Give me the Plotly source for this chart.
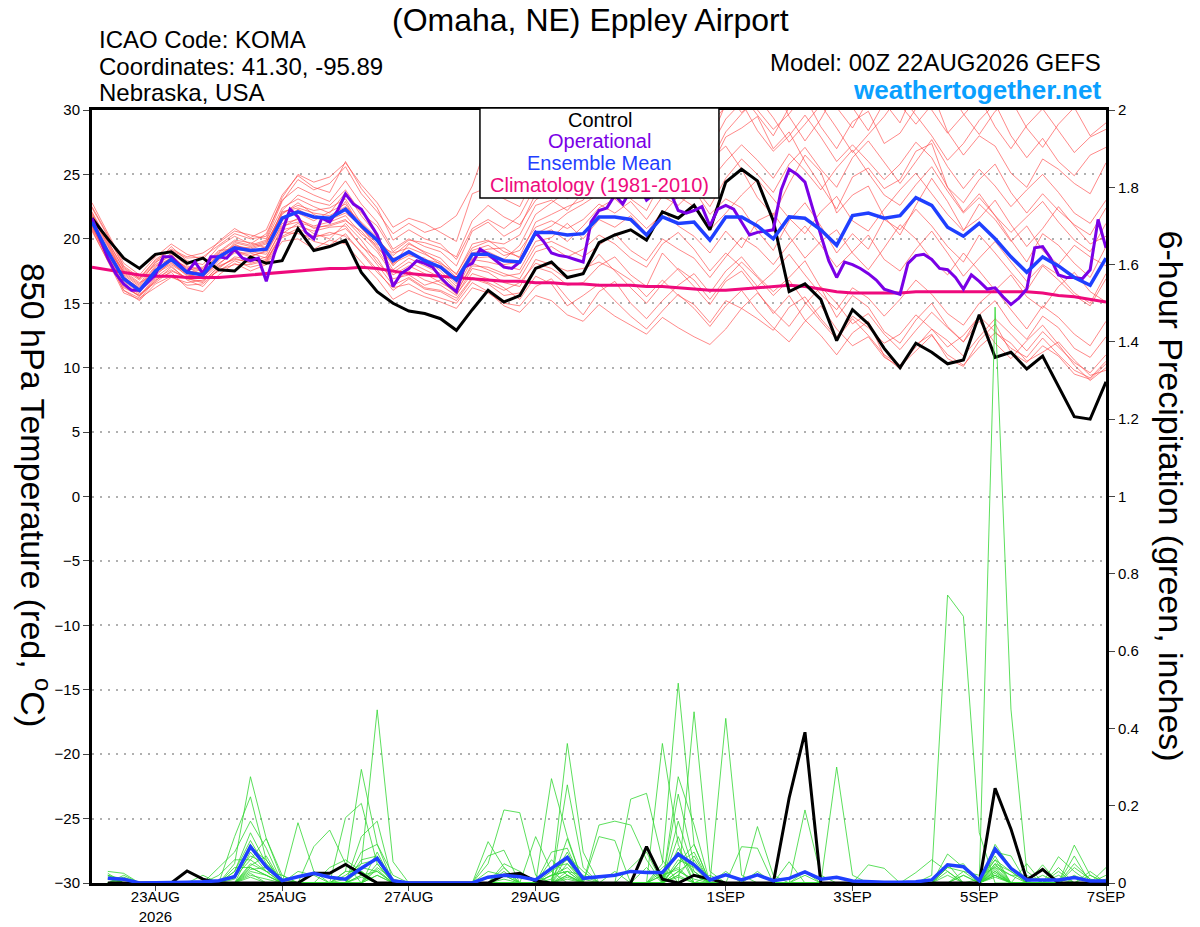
import pandas as pd
import plotly.graph_objects as go

FONT = "Liberation Sans, Arial, sans-serif"

# 6-hourly forecast times from the 00Z 22AUG2026 run, operational run is 3-hourly
times = pd.date_range("2026-08-22 00:00", periods=65, freq="6h")
times_3h = pd.date_range("2026-08-22 00:00", periods=129, freq="3h")
prcp_times = times[1:]

tick_dates = ["2026-08-23", "2026-08-25", "2026-08-27", "2026-08-29",
              "2026-09-01", "2026-09-03", "2026-09-05", "2026-09-07"]
tick_labels = ["23AUG<br>2026", "25AUG", "27AUG", "29AUG", "1SEP", "3SEP", "5SEP", "7SEP"]

# 850 hPa temperature (C)
control_t = [21.6, 20.0, 18.5, 17.7, 18.8, 19.0, 18.1, 18.5, 17.6, 17.5,
             18.6, 18.1, 18.3, 20.8, 19.1, 19.4, 19.9, 17.4, 15.9, 15.0,
             14.4, 14.2, 13.8, 12.9, 14.5, 16.0, 15.1, 15.6, 17.7, 18.2,
             17.0, 17.3, 19.7, 20.3, 20.7, 19.9, 22.1, 21.6, 22.6, 20.7,
             24.4, 25.4, 24.5, 21.4, 15.9, 16.5, 15.3, 12.1, 14.5, 13.4,
             11.5, 10.0, 11.9, 11.2, 10.3, 10.6, 14.1, 10.8, 11.2, 9.9,
             10.9, 8.5, 6.2, 6.0, 8.9]

mean_t = [21.3, 19.0, 16.9, 16.0, 17.5, 18.4, 17.4, 17.2, 18.6, 19.3,
          19.1, 19.2, 21.6, 22.1, 21.7, 21.6, 22.3, 21.0, 19.9, 18.3,
          19.0, 18.3, 17.8, 16.8, 18.8, 18.8, 18.3, 18.2, 20.5, 20.5,
          20.3, 20.4, 21.7, 21.7, 21.5, 20.3, 21.7, 21.2, 21.3, 19.9,
          21.7, 21.7, 21.0, 20.0, 21.7, 21.6, 20.7, 19.5, 21.8, 22.0,
          21.6, 21.8, 23.2, 22.6, 20.9, 20.2, 21.2, 20.0, 18.6, 17.4,
          18.6, 17.9, 17.0, 16.4, 18.5]

clim_t = [17.8, 17.6, 17.4, 17.2, 17.1, 17.1, 17.0, 17.0, 17.0, 17.1,
          17.2, 17.3, 17.4, 17.5, 17.6, 17.7, 17.7, 17.8, 17.7, 17.5,
          17.3, 17.2, 17.1, 17.0, 16.9, 16.8, 16.7, 16.7, 16.6, 16.6,
          16.5, 16.5, 16.4, 16.4, 16.4, 16.3, 16.3, 16.2, 16.1, 16.0,
          16.0, 16.1, 16.2, 16.3, 16.4, 16.3, 16.1, 15.9, 15.8, 15.8,
          15.8, 15.8, 15.9, 15.9, 15.9, 15.9, 15.9, 15.9, 15.9, 15.9,
          15.8, 15.6, 15.5, 15.3, 15.1]

oper_t = [21.6, 20.0, 18.5, 17.3, 16.5, 16.0, 16.0, 16.6, 17.2, 18.6,
          18.6, 18.0, 17.4, 18.2, 17.3, 18.6, 18.6, 18.5, 19.2, 18.5,
          18.3, 18.5, 16.7, 18.8, 20.5, 22.3, 21.7, 20.5, 20.0, 21.6,
          21.3, 22.2, 23.5, 22.7, 22.3, 21.3, 20.3, 18.6, 16.3, 17.3,
          17.7, 18.3, 18.1, 17.8, 17.0, 16.4, 15.9, 17.8, 18.1, 19.2,
          18.8, 18.3, 17.8, 17.7, 18.2, 19.3, 20.5, 19.8, 18.9, 18.7,
          18.6, 18.4, 18.2, 21.3, 22.2, 22.4, 23.4, 22.7, 23.8, 24.2,
          23.0, 23.5, 24.0, 23.6, 22.2, 22.0, 22.2, 22.5, 21.0, 22.3,
          22.6, 22.3, 21.3, 20.3, 20.5, 20.6, 20.7, 23.8, 25.4, 25.0,
          24.4, 22.3, 20.2, 18.3, 17.0, 18.2, 18.0, 17.7, 17.3, 16.8,
          16.1, 15.9, 15.7, 18.1, 18.7, 18.8, 18.4, 17.7, 17.6, 17.0,
          16.1, 17.2, 16.7, 16.1, 16.2, 15.5, 14.9, 15.4, 16.1, 19.3,
          19.4, 18.5, 17.2, 17.0, 17.0, 16.9, 17.6, 21.5, 19.3]

temp_members = [
    [21.8, 19.5, 17.2, 16.3, 17.8, 18.9, 17.9, 17.5, 18.9, 19.8, 19.5, 19.9, 22.4,
     23.1, 22.5, 22.0, 23.6, 21.8, 20.3, 18.0, 19.6, 19.0, 18.5, 17.2, 19.6, 19.9,
     19.0, 18.6, 21.3, 21.9, 22.5, 23.0, 24.8, 25.0, 24.3, 23.0, 25.8, 26.5, 27.2,
     25.4, 27.9, 28.6, 29.5, 27.0, 28.3, 26.0, 24.2, 22.3, 24.8, 25.5, 23.9, 24.6,
     26.8, 27.4, 24.0, 22.1, 23.5, 21.8, 19.9, 18.2, 20.4, 19.5, 18.1, 17.0, 19.4],
    [20.9, 18.6, 16.4, 15.5, 16.9, 17.6, 16.9, 16.6, 17.9, 18.4, 18.2, 18.6, 20.7,
     21.0, 20.6, 20.9, 21.0, 19.4, 18.5, 16.6, 17.5, 16.8, 16.4, 15.6, 17.7, 17.4,
     16.6, 16.3, 18.4, 18.0, 17.5, 17.7, 18.2, 17.6, 16.8, 15.5, 16.8, 15.6, 14.9,
     13.5, 15.2, 14.6, 13.8, 12.9, 14.7, 15.5, 13.8, 12.4, 14.0, 13.1, 11.9, 12.6,
     14.1, 13.0, 11.6, 12.5, 14.0, 12.8, 11.5, 10.8, 12.3, 11.0, 9.8, 9.2, 10.5],
    [22.4, 20.2, 17.8, 16.9, 18.1, 19.4, 18.3, 18.0, 19.4, 20.2, 19.6, 20.4, 23.0,
     24.0, 23.4, 22.9, 24.5, 22.7, 21.3, 19.2, 20.0, 19.4, 19.0, 17.9, 20.6, 21.3,
     20.2, 20.9, 23.5, 24.2, 23.1, 24.4, 26.3, 27.0, 25.8, 24.5, 27.6, 28.4, 29.3,
     27.5, 30.5, 31.2, 29.6, 28.0, 30.2, 31.0, 28.7, 27.0, 29.1, 29.9, 27.4, 28.2,
     30.1, 31.5, 28.3, 26.5, 28.0, 27.2, 25.1, 24.0, 26.2, 25.4, 24.3, 23.5, 25.9],
    [21.0, 18.4, 16.0, 15.2, 16.5, 17.1, 16.4, 16.5, 17.6, 18.0, 18.0, 18.3, 20.5,
     20.4, 20.1, 20.5, 20.2, 19.0, 17.6, 16.0, 16.9, 16.1, 15.9, 15.2, 16.9, 16.5,
     15.6, 15.8, 17.8, 17.4, 16.4, 16.6, 17.9, 18.6, 17.2, 16.3, 18.9, 17.6, 16.3,
     14.9, 16.7, 17.5, 15.9, 14.2, 15.6, 13.7, 12.5, 11.0, 12.7, 13.6, 10.9, 9.9,
     11.8, 12.6, 10.7, 10.1, 12.1, 13.4, 11.2, 10.4, 11.7, 10.9, 9.5, 9.1, 10.3],
    [21.5, 19.2, 17.5, 16.6, 17.3, 18.0, 17.2, 17.0, 18.3, 19.6, 19.0, 19.4, 21.9,
     22.8, 21.9, 21.3, 22.9, 20.8, 19.6, 18.9, 19.3, 18.8, 18.2, 17.0, 19.1, 19.5,
     18.7, 19.1, 20.9, 21.4, 20.8, 21.5, 22.7, 22.0, 22.9, 21.5, 23.3, 22.6, 23.8,
     21.9, 23.1, 22.4, 20.6, 19.1, 21.4, 22.8, 21.0, 18.9, 20.4, 19.2, 21.5, 20.7,
     22.3, 21.0, 19.4, 18.2, 20.3, 18.9, 17.4, 16.0, 17.9, 16.8, 15.6, 14.8, 16.9],
    [21.9, 19.8, 17.7, 16.9, 18.4, 19.2, 18.6, 18.9, 19.7, 20.6, 20.3, 20.0, 22.9,
     24.6, 23.8, 24.3, 25.6, 23.5, 22.1, 20.4, 21.2, 20.5, 20.9, 21.8, 24.1, 27.6,
     26.0, 24.2, 26.9, 27.5, 26.0, 27.8, 29.4, 28.2, 29.1, 27.0, 28.8, 29.6, 28.0,
     26.1, 27.2, 25.4, 23.2, 21.8, 24.3, 26.5, 25.2, 22.0, 23.4, 24.1, 21.7, 20.3,
     22.6, 24.7, 22.9, 20.7, 21.6, 23.0, 21.1, 19.4, 20.8, 22.5, 21.0, 19.6, 20.2],
    [20.7, 18.2, 15.8, 15.3, 16.8, 17.4, 16.2, 15.9, 17.2, 18.1, 17.5, 18.0, 19.8,
     20.0, 19.2, 19.9, 19.6, 18.2, 16.9, 15.3, 16.0, 15.5, 15.1, 14.6, 16.2, 15.8,
     15.0, 14.8, 16.3, 16.9, 15.4, 14.1, 15.9, 16.7, 15.0, 13.8, 15.2, 16.4, 17.3,
     15.8, 17.5, 18.6, 17.1, 15.9, 17.0, 18.3, 16.2, 13.9, 15.6, 14.7, 12.8, 11.9,
     13.7, 15.0, 13.2, 12.0, 14.1, 15.2, 13.4, 12.2, 14.0, 13.1, 11.5, 10.8, 12.4],
    [22.1, 19.9, 17.6, 16.8, 18.0, 18.7, 17.5, 17.3, 18.7, 19.4, 19.3, 19.7, 22.0,
     22.6, 22.2, 22.4, 23.1, 21.2, 20.0, 18.7, 19.7, 18.9, 18.0, 16.9, 18.8, 19.0,
     18.4, 19.5, 21.9, 22.8, 23.7, 25.1, 26.0, 25.2, 26.4, 25.3, 27.2, 26.4, 27.6,
     25.9, 28.3, 29.7, 31.0, 29.4, 27.5, 28.9, 30.4, 28.6, 26.7, 28.1, 29.5, 31.2,
     29.6, 28.0, 26.1, 27.4, 29.2, 30.5, 28.0, 26.3, 27.8, 26.0, 24.9, 26.5, 27.1],
    [21.2, 18.9, 16.7, 15.8, 17.5, 18.6, 17.7, 17.8, 19.1, 19.2, 19.0, 18.8, 21.2,
     21.5, 21.0, 21.3, 21.8, 20.4, 19.5, 17.6, 18.5, 17.9, 17.3, 16.1, 18.4, 18.2,
     17.9, 17.6, 19.8, 20.1, 21.2, 20.0, 21.5, 20.9, 21.8, 20.4, 22.2, 21.0, 20.2,
     18.9, 20.6, 19.3, 21.4, 22.0, 20.2, 18.5, 19.8, 20.7, 18.9, 17.6, 19.3, 21.1,
     20.0, 18.4, 17.2, 18.9, 17.5, 16.0, 17.2, 15.5, 14.6, 16.3, 17.4, 15.9, 15.1],
    [22.8, 20.5, 18.1, 17.2, 18.6, 19.6, 18.8, 18.4, 19.8, 20.8, 20.1, 20.7, 23.4,
     24.9, 24.0, 23.6, 26.0, 23.9, 22.4, 19.9, 20.7, 20.0, 19.6, 18.4, 20.8, 21.5,
     20.8, 21.8, 24.1, 25.0, 24.6, 26.2, 27.5, 28.9, 27.8, 26.1, 28.2, 30.2, 29.0,
     27.0, 29.3, 30.6, 28.4, 26.8, 28.0, 29.6, 27.9, 26.0, 27.3, 26.0, 24.6, 25.8,
     27.5, 26.3, 24.0, 22.8, 24.6, 25.8, 23.6, 22.0, 23.5, 22.2, 21.1, 20.3, 22.4],
    [20.6, 18.3, 16.2, 15.6, 17.0, 17.9, 16.8, 16.3, 17.7, 18.6, 18.4, 18.2, 20.4,
     21.2, 20.4, 20.0, 21.2, 19.9, 18.2, 16.9, 17.2, 16.4, 16.8, 15.7, 17.3, 16.9,
     16.2, 15.3, 17.1, 16.5, 14.8, 15.6, 16.5, 15.2, 14.0, 13.0, 14.4, 15.7, 14.6,
     13.2, 14.8, 16.0, 14.4, 13.1, 12.0, 13.6, 14.8, 13.0, 11.7, 12.4, 10.8, 10.1,
     11.3, 12.5, 11.0, 10.2, 11.6, 12.7, 11.9, 10.5, 11.2, 12.0, 10.6, 9.4, 9.8],
    [21.4, 19.1, 17.1, 16.1, 17.7, 18.2, 17.1, 17.4, 18.5, 19.0, 18.6, 19.1, 21.4,
     22.3, 21.6, 21.5, 22.0, 21.0, 19.8, 17.9, 19.1, 18.2, 17.7, 16.5, 18.5, 18.6,
     18.0, 18.2, 20.3, 20.7, 19.8, 21.0, 22.4, 23.1, 22.0, 20.8, 21.9, 23.3, 22.5,
     20.7, 22.0, 23.4, 24.6, 23.1, 21.6, 20.4, 22.1, 23.3, 21.4, 20.6, 22.3, 23.8,
     25.1, 23.5, 21.9, 20.6, 22.7, 21.5, 19.8, 21.0, 19.1, 18.0, 19.5, 18.6, 17.9],
    [22.0, 19.7, 17.4, 16.5, 18.2, 18.8, 17.6, 17.7, 19.0, 19.9, 19.7, 19.3, 22.2,
     23.4, 22.9, 22.6, 23.8, 22.0, 21.0, 19.0, 19.9, 19.7, 19.3, 18.6, 21.4, 22.6,
     21.7, 21.1, 23.0, 23.9, 25.2, 24.0, 25.9, 27.4, 28.6, 26.8, 25.5, 27.9, 30.8,
     29.2, 31.4, 29.8, 30.9, 32.0, 29.5, 27.6, 29.3, 31.5, 30.2, 28.4, 30.6, 29.0,
     31.8, 30.0, 28.2, 29.6, 31.0, 28.7, 27.0, 28.8, 30.1, 28.4, 26.7, 27.9, 28.5],
    [21.1, 18.8, 16.5, 15.7, 16.6, 17.5, 17.0, 17.1, 18.1, 18.9, 18.9, 18.5, 20.9,
     21.6, 20.8, 21.1, 21.5, 20.2, 19.0, 17.2, 17.9, 17.3, 16.6, 15.9, 17.9, 17.8,
     17.3, 16.9, 19.0, 19.4, 18.6, 19.2, 20.3, 19.6, 18.5, 17.8, 19.6, 20.5, 19.2,
     17.5, 18.9, 17.8, 16.3, 17.4, 18.8, 17.2, 15.7, 14.5, 16.2, 15.4, 14.0, 15.3,
     16.8, 15.7, 14.2, 13.3, 15.0, 16.1, 14.5, 13.0, 14.8, 13.9, 12.6, 11.7, 13.6],
    [21.6, 19.4, 17.0, 16.2, 17.1, 18.3, 17.4, 17.6, 18.8, 19.5, 19.2, 19.6, 22.1,
     22.4, 22.0, 21.8, 22.5, 21.3, 20.1, 18.5, 18.8, 18.5, 17.5, 16.3, 18.9, 19.2,
     19.3, 18.5, 20.4, 21.0, 22.0, 22.7, 23.5, 24.4, 23.1, 22.2, 24.6, 25.3, 24.0,
     22.5, 24.7, 26.2, 25.0, 23.6, 25.8, 27.1, 25.4, 24.0, 26.3, 27.6, 25.9, 24.3,
     26.0, 27.7, 25.6, 23.9, 25.4, 24.1, 22.5, 23.8, 25.0, 23.6, 22.0, 21.2, 23.0],
    [20.8, 18.5, 16.0, 15.4, 16.2, 17.0, 16.6, 16.8, 17.5, 18.3, 17.8, 18.1, 20.1,
     20.6, 19.8, 19.5, 20.4, 18.9, 17.4, 16.2, 16.5, 15.8, 15.4, 15.0, 16.6, 15.9,
     14.8, 14.3, 15.6, 15.2, 14.1, 13.6, 14.9, 14.0, 13.3, 12.6, 13.9, 13.1, 12.4,
     11.8, 13.0, 14.6, 15.8, 14.4, 13.2, 14.9, 16.3, 15.0, 13.4, 14.2, 12.6, 11.4,
     12.9, 14.3, 13.1, 12.0, 13.6, 11.9, 10.7, 12.1, 13.3, 11.8, 10.2, 9.0, 10.0],
    [21.7, 19.6, 17.3, 16.4, 17.9, 18.5, 17.8, 17.2, 18.4, 19.7, 19.4, 19.8, 21.7,
     22.0, 21.4, 22.1, 22.7, 20.9, 19.3, 18.1, 18.7, 18.4, 18.1, 17.3, 19.3, 19.8,
     19.6, 20.3, 22.6, 23.0, 22.2, 23.6, 25.0, 24.1, 25.4, 24.2, 26.1, 24.9, 26.2,
     24.5, 26.0, 27.3, 26.1, 24.7, 26.6, 25.3, 23.8, 25.5, 26.9, 25.1, 23.4, 22.6,
     24.2, 25.6, 23.7, 22.0, 23.2, 21.8, 20.5, 21.7, 22.9, 21.3, 19.9, 19.0, 21.2],
    [21.3, 19.0, 16.8, 15.9, 17.4, 18.1, 17.3, 16.9, 18.0, 19.1, 18.7, 19.0, 21.0,
     21.3, 20.9, 21.0, 21.4, 20.6, 19.2, 17.4, 18.2, 17.6, 17.0, 15.8, 18.1, 17.6,
     17.1, 17.3, 19.4, 19.8, 19.2, 18.6, 19.5, 20.4, 19.1, 18.3, 20.0, 19.2, 18.5,
     17.0, 18.6, 20.1, 19.3, 18.0, 19.6, 21.0, 19.5, 17.8, 19.0, 20.3, 18.4, 17.5,
     19.2, 20.6, 18.9, 17.1, 18.5, 19.8, 18.2, 16.7, 18.0, 17.2, 15.8, 15.0, 17.3],
    [22.5, 20.3, 17.9, 17.0, 18.3, 19.1, 18.5, 18.6, 19.5, 20.4, 20.0, 20.2, 23.2,
     25.0, 24.4, 24.8, 25.9, 24.2, 22.8, 20.9, 21.6, 21.2, 20.5, 19.8, 23.5, 24.0,
     23.1, 22.5, 25.0, 26.3, 27.0, 28.4, 29.2, 30.1, 28.5, 27.4, 29.3, 30.6, 31.2,
     28.8, 30.3, 31.5, 30.0, 28.5, 29.7, 31.3, 32.0, 30.2, 28.6, 30.8, 31.9, 30.4,
     28.9, 30.4, 31.6, 29.7, 28.1, 29.9, 30.8, 28.6, 27.1, 28.9, 30.2, 28.0, 29.0],
    [21.0, 18.7, 16.3, 15.6, 16.7, 17.8, 16.9, 16.7, 17.8, 18.5, 18.1, 18.4, 20.2,
     20.8, 20.2, 20.3, 20.8, 19.5, 18.0, 16.4, 17.0, 16.2, 16.0, 15.4, 17.0, 16.6,
     16.0, 16.6, 18.1, 17.7, 16.9, 17.4, 18.8, 17.5, 16.2, 15.0, 16.5, 17.7, 16.8,
     15.3, 16.9, 18.2, 17.0, 15.6, 16.8, 15.1, 13.6, 12.2, 13.8, 12.5, 11.0, 10.2,
     11.6, 13.0, 12.1, 10.9, 12.4, 13.8, 12.6, 11.3, 12.8, 11.6, 10.4, 9.6, 11.0],
]

# 6-hour precipitation (inches), valid 06Z 22AUG onward
control_p = [0, 0, 0, 0, 0, 0.031, 0.01, 0, 0, 0,
             0, 0, 0, 0.025, 0.025, 0.048, 0.023, 0, 0, 0,
             0, 0, 0, 0, 0, 0.02, 0.025, 0.005, 0, 0,
             0, 0, 0, 0, 0.094, 0.01, 0, 0.02, 0.01, 0,
             0, 0, 0, 0.22, 0.39, 0, 0, 0, 0, 0,
             0, 0, 0, 0, 0, 0, 0.245, 0.14, 0.008, 0.035,
             0, 0, 0, 0]

mean_p = [0.012, 0.01, 0, 0, 0, 0.002, 0.003, 0.006, 0.016, 0.094,
          0.042, 0.006, 0.016, 0.025, 0.015, 0.01, 0.038, 0.064, 0.006, 0,
          0, 0, 0, 0, 0.015, 0.02, 0.016, 0.008, 0.038, 0.066,
          0.012, 0.016, 0.02, 0.03, 0.027, 0.027, 0.075, 0.047, 0.008, 0.021,
          0.008, 0.021, 0.006, 0.012, 0.029, 0.01, 0.015, 0.005, 0.003, 0.002,
          0.002, 0.003, 0.008, 0.047, 0.042, 0.006, 0.088, 0.038, 0.008, 0.008,
          0.008, 0.014, 0.005, 0.005]

# members: nonzero amounts by 6-h step (1 = 06Z 22AUG), all other steps dry
prcp_members = [
    {1: .02, 2: .01, 9: .05, 10: .275, 11: .115, 12: .01, 17: .05, 18: .448, 19: .055,
     26: .04, 29: .27, 30: .12, 36: .05, 37: .517, 38: .1, 45: .02, 57: .05, 62: .098, 63: .02},
    {1: .03, 2: .025, 9: .12, 10: .223, 11: .06, 16: .03, 17: .294, 18: .1, 25: .107, 26: .04,
     30: .361, 31: .08, 34: .217, 35: .232, 36: .06, 38: .443, 39: .03, 57: .08, 58: .07, 61: .03},
    {1: .016, 8: .04, 9: .08, 10: .16, 11: .09, 13: .156, 14: .03, 17: .12, 18: .16, 25: .05,
     26: .189, 27: .182, 28: .02, 30: .254, 31: .04, 36: .361, 37: .1, 40: .426, 41: .02,
     54: .04, 55: .03, 57: .1, 58: .04},
    {2: .02, 7: .02, 9: .03, 10: .13, 11: .05, 14: .094, 15: .137, 16: .05, 18: .02, 25: .07,
     26: .085, 30: .115, 32: .12, 33: .11, 37: .275, 38: .15, 45: .189, 46: .02, 53: .02,
     54: .745, 55: .69, 56: .13, 60: .047},
    {1: .02, 9: .02, 10: .1, 11: .04, 16: .169, 17: .206, 18: .05, 26: .03, 29: .08, 30: .09,
     32: .15, 33: .16, 34: .15, 35: .06, 37: .23, 38: .05, 42: .146, 43: .02, 57: 1.49,
     58: .45, 59: .03, 61: .02},
    {1: .025, 10: .08, 11: .03, 12: .02, 17: .08, 18: .1, 19: .02, 28: .12, 29: .03, 30: .06,
     37: .16, 38: .03, 41: .094, 42: .09, 47: .3, 48: .02, 54: .075, 55: .04, 57: .06,
     62: .04, 63: .01},
    {2: .015, 8: .02, 9: .06, 10: .06, 11: .115, 12: .02, 15: .04, 16: .06, 17: .03, 29: .04,
     30: .05, 34: .04, 35: .08, 37: .05, 38: .1, 44: .055, 54: .05, 57: .07, 59: .05, 64: .04},
    {1: .01, 9: .04, 10: .04, 11: .02, 16: .02, 17: .05, 18: .06, 26: .02, 30: .03, 31: .02,
     36: .03, 37: .08, 39: .02, 49: .047, 50: .038, 55: .02, 57: .04, 61: .068, 62: .03},
    {10: .05, 11: .03, 17: .04, 18: .03, 29: .02, 30: .04, 37: .06, 38: .04, 42: .03,
     52: .027, 53: .06, 54: .03, 57: .05, 58: .03, 63: .02},
    {1: .012, 9: .02, 10: .07, 11: .05, 12: .01, 16: .03, 17: .03, 26: .05, 27: .03, 30: .02,
     33: .03, 35: .04, 37: .12, 38: .02, 54: .02, 57: .03, 60: .02, 64: .02},
    {10: .03, 11: .02, 18: .04, 19: .01, 29: .03, 37: .03, 38: .06, 45: .03, 57: .02,
     62: .05, 63: .01},
    {2: .01, 9: .01, 10: .09, 11: .06, 17: .02, 30: .07, 31: .03, 36: .02, 37: .04, 55: .03,
     56: .02, 57: .04, 58: .02, 59: .02},
    {1: .02, 10: .045, 11: .07, 13: .03, 14: .02, 18: .08, 25: .03, 26: .02, 29: .06, 30: .02,
     37: .02, 38: .07, 54: .03, 57: .02, 62: .07},
    {9: .03, 10: .11, 11: .04, 17: .02, 18: .03, 29: .02, 30: .03, 36: .04, 37: .07, 38: .03,
     56: .01, 57: .06, 58: .03},
    {10: .02, 11: .01, 17: .06, 18: .07, 26: .01, 30: .015, 37: .02, 40: .03, 54: .04,
     55: .05, 57: .03, 61: .04},
    {1: .01, 2: .01, 10: .035, 11: .04, 18: .02, 30: .05, 31: .01, 37: .09, 38: .02, 57: .045,
     58: .02, 64: .01},
    {10: .025, 16: .01, 17: .03, 30: .01, 36: .02, 37: .035, 57: .035, 61: .01},
    {9: .015, 10: .06, 11: .03, 18: .05, 29: .01, 30: .08, 37: .05, 38: .08, 55: .02,
     57: .025, 62: .02},
    {10: .015, 17: .015, 30: .02, 37: .015, 57: .015},
    {10: .04, 11: .02, 18: .035, 29: .02, 30: .03, 37: .03, 38: .01, 57: .02, 63: .03},
]

fig = go.Figure()

# ensemble members, temperature
for m in temp_members:
    fig.add_trace(go.Scatter(x=times, y=m, mode="lines",
                             line=dict(color="rgba(255,70,70,0.8)", width=0.8),
                             hoverinfo="skip"))

fig.add_trace(go.Scatter(x=times, y=clim_t, mode="lines", line=dict(color="#ee0a7c", width=3)))
fig.add_trace(go.Scatter(x=times, y=control_t, mode="lines", line=dict(color="black", width=3)))
fig.add_trace(go.Scatter(x=times_3h, y=oper_t, mode="lines", line=dict(color="#7a00e6", width=3)))
fig.add_trace(go.Scatter(x=times, y=mean_t, mode="lines", line=dict(color="#1f3fff", width=3.5)))

# ensemble members, precipitation on right axis
for m in prcp_members:
    vals = [m.get(i, 0.0) for i in range(1, 65)]
    fig.add_trace(go.Scatter(x=prcp_times, y=vals, mode="lines", yaxis="y2",
                             line=dict(color="rgb(50,215,50)", width=0.8),
                             hoverinfo="skip"))

fig.add_trace(go.Scatter(x=prcp_times, y=control_p, mode="lines", yaxis="y2",
                         line=dict(color="black", width=3)))
fig.add_trace(go.Scatter(x=prcp_times, y=mean_p, mode="lines", yaxis="y2",
                         line=dict(color="#1f3fff", width=3.5)))

# legend box
fig.add_shape(type="rect", xref="paper", yref="paper", x0=0.3826, x1=0.6183, y0=0.8862, y1=1.0026,
              fillcolor="white", line=dict(color="black", width=1.5), layer="above")
legend_items = [("Control", "black", 0.987), ("Operational", "#7a00e6", 0.960),
                ("Ensemble Mean", "#1f3fff", 0.9314), ("Climatology (1981-2010)", "#ee0a7c", 0.903)]
for txt, col, yy in legend_items:
    fig.add_annotation(text=txt, x=0.5005, y=yy, xref="paper", yref="paper", showarrow=False,
                       xanchor="center", yanchor="middle", font=dict(size=20, color=col, family=FONT))

# header texts
fig.add_annotation(text="(Omaha, NE) Eppley Airport", x=0.492, y=1.116, xref="paper", yref="paper",
                   showarrow=False, xanchor="center", yanchor="middle", font=dict(size=32, family=FONT))
for txt, yy in [("ICAO Code: KOMA", 1.0906), ("Coordinates: 41.30, -95.89", 1.0569), ("Nebraska, USA", 1.022)]:
    fig.add_annotation(text=txt, x=0.0045, y=yy, xref="paper", yref="paper", showarrow=False,
                       xanchor="left", yanchor="middle", font=dict(size=24, family=FONT))
fig.add_annotation(text="Model: 00Z 22AUG2026 GEFS", x=0.997, y=1.061, xref="paper", yref="paper",
                   showarrow=False, xanchor="right", yanchor="middle", font=dict(size=24, family=FONT))
fig.add_annotation(text="<b>weathertogether.net</b>", x=0.997, y=1.0265, xref="paper", yref="paper",
                   showarrow=False, xanchor="right", yanchor="middle",
                   font=dict(size=26, family=FONT, color="#0aa0ff"))

# axis titles, read top to bottom
fig.add_annotation(text="850 hPa Temperature (red, <sup>o</sup>C)", x=-0.0562, y=0.502, xref="paper",
                   yref="paper", showarrow=False, textangle=90, xanchor="center", yanchor="middle",
                   font=dict(size=34, family=FONT))
fig.add_annotation(text="6-hour Precipitation (green, inches)", x=1.065, y=0.5, xref="paper",
                   yref="paper", showarrow=False, textangle=90, xanchor="center", yanchor="middle",
                   font=dict(size=34, family=FONT))

# the page puts an 8 px body margin around the figure, so the figure is 8 px smaller
fig.update_layout(
    width=1192, height=919,
    margin=dict(l=84, r=94, t=102, b=44, autoexpand=False),
    paper_bgcolor="white", plot_bgcolor="white",
    showlegend=False,
    font=dict(family=FONT, color="black", size=15),
    xaxis=dict(type="date", range=[times[0], times[-1]], tickvals=tick_dates, ticktext=tick_labels,
               ticks="outside", ticklen=5, tickwidth=1, showline=True, linewidth=3, linecolor="black",
               mirror=True, showgrid=False, zeroline=False, tickfont=dict(size=15),
               ticklabelstandoff=-7),
    yaxis=dict(range=[-30, 30], dtick=5, tick0=0, ticks="outside", ticklen=6, tickcolor="#444",
               showline=True, linewidth=3, linecolor="black", showgrid=True, gridcolor="#b0b0b0",
               griddash="2px,6px", gridwidth=1.5, zeroline=False, tickfont=dict(size=15)),
    yaxis2=dict(range=[0, 2], dtick=0.2, tick0=0, overlaying="y", side="right", ticks="outside",
                ticklen=6, tickcolor="#444", showline=True, linewidth=3, linecolor="black",
                showgrid=False, zeroline=False, tickfont=dict(size=15)),
)

fig.write_html("out.html")
